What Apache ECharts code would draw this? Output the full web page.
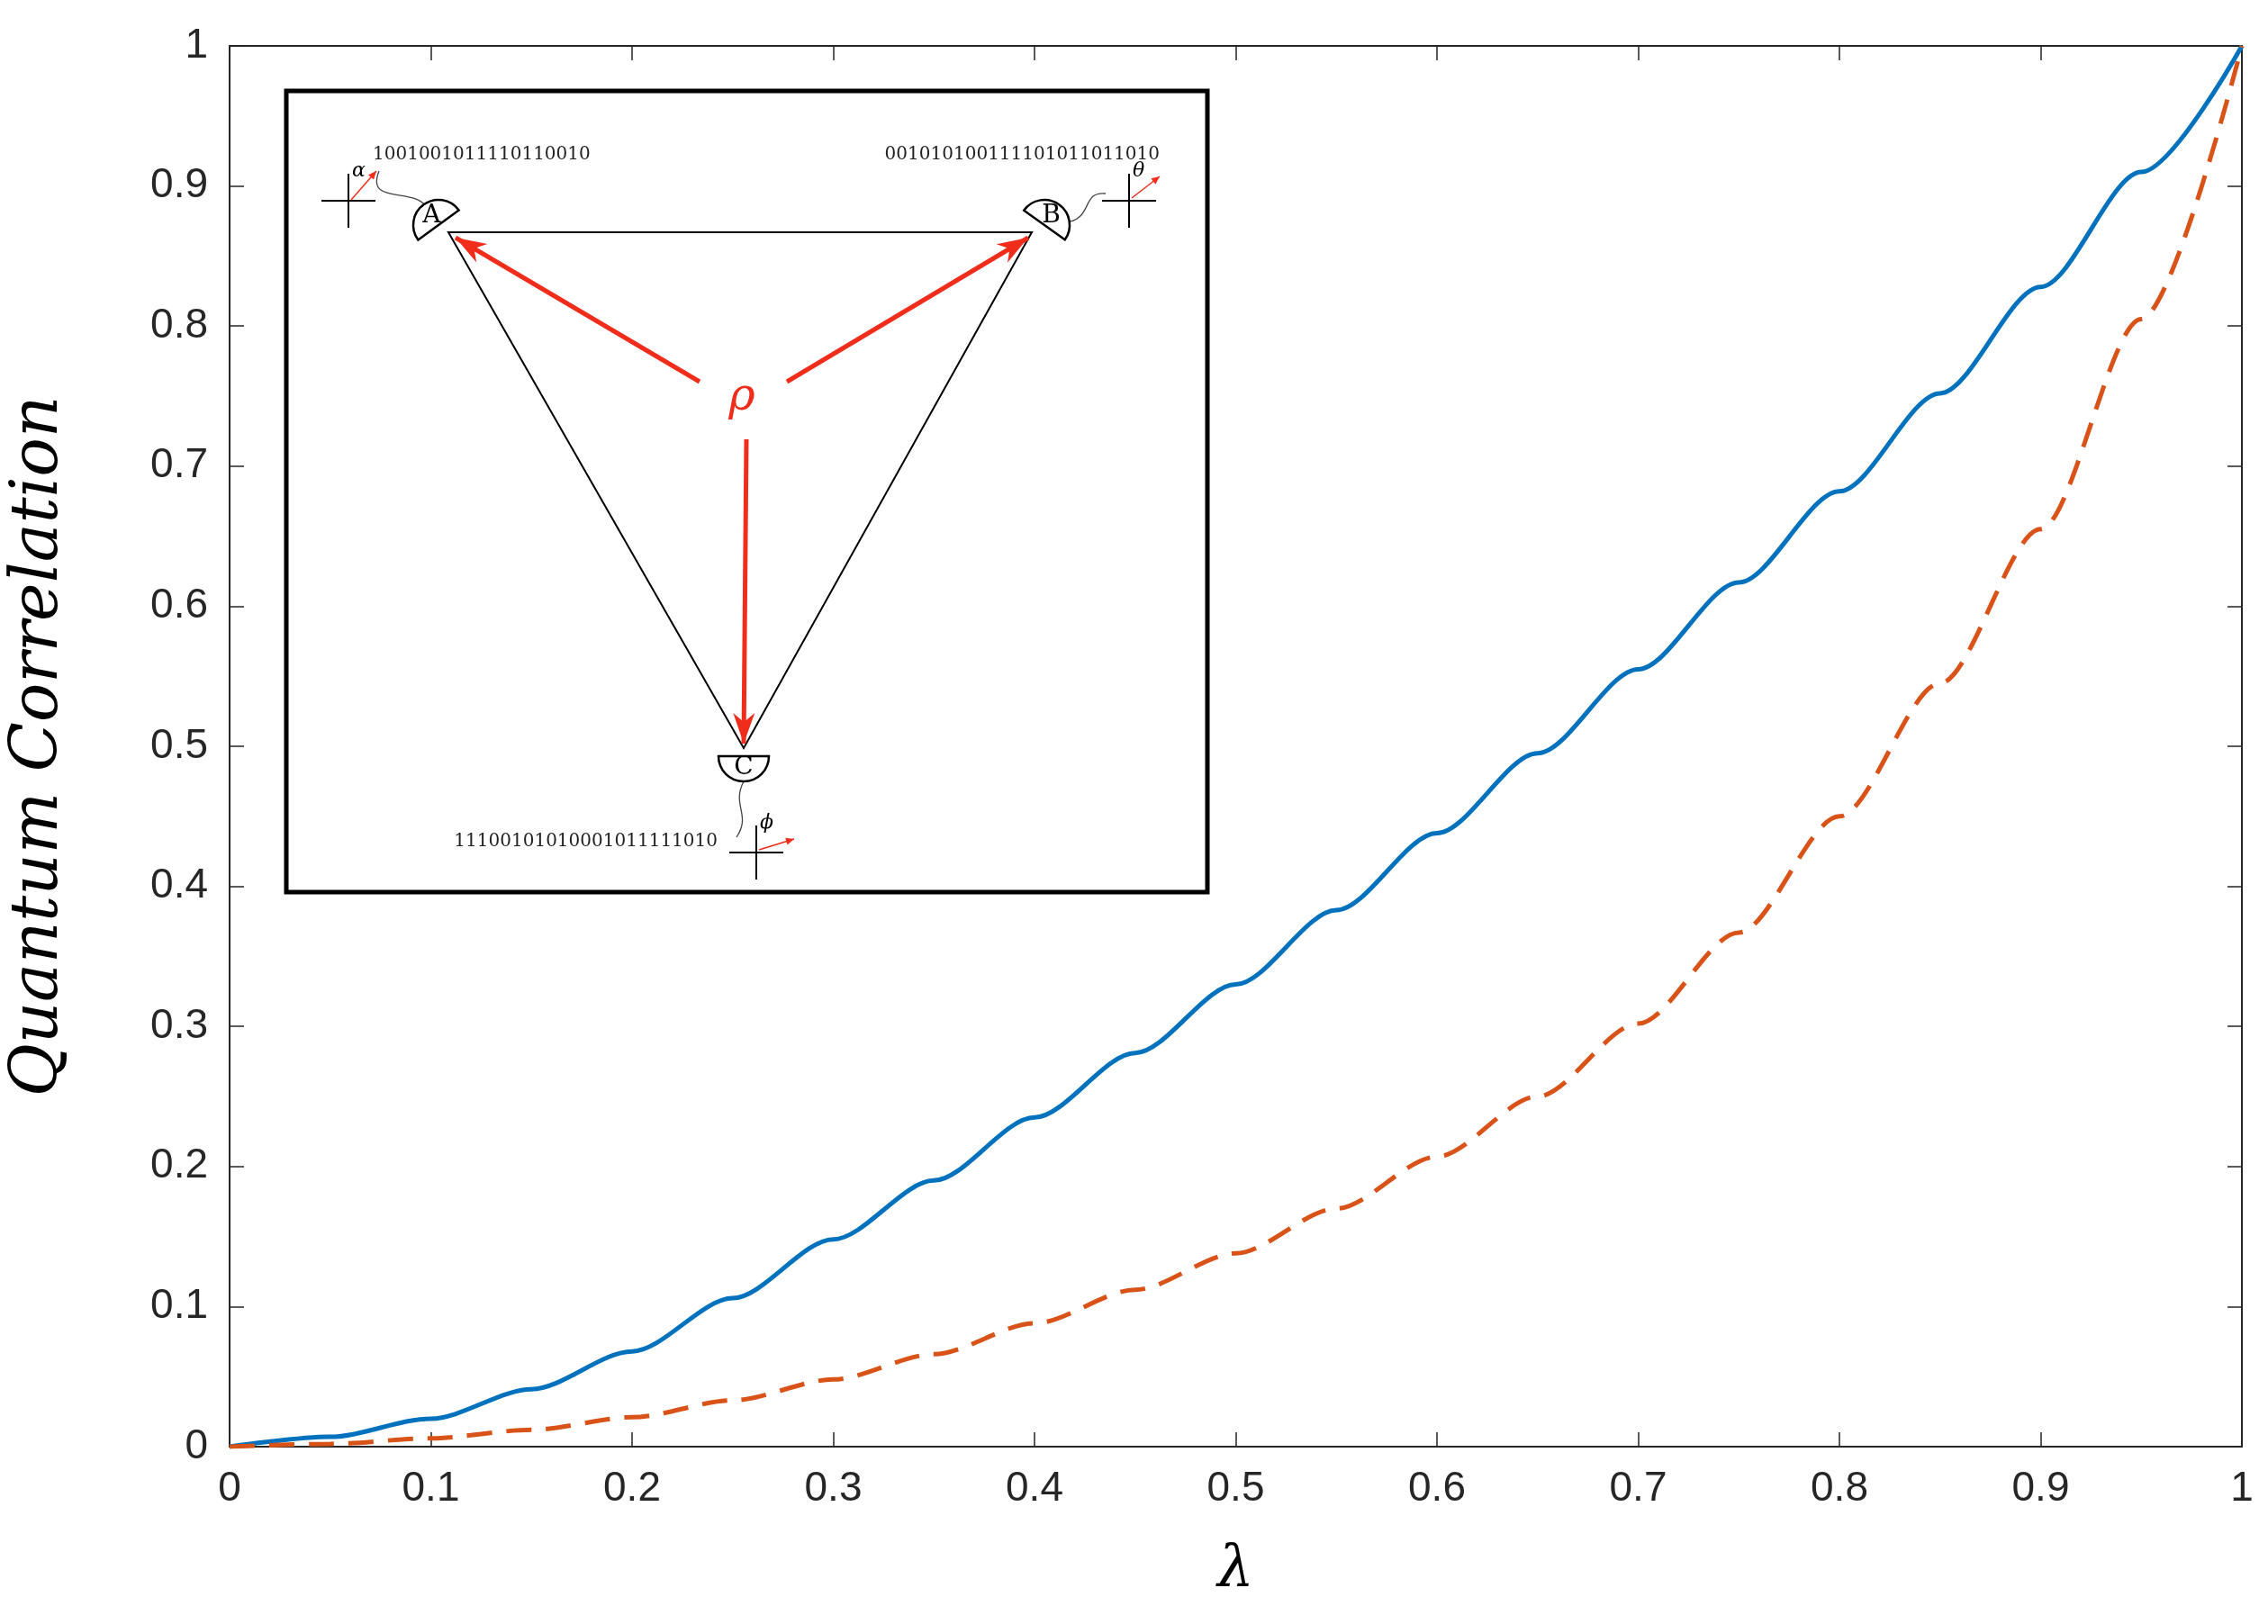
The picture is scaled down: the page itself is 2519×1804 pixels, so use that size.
<!DOCTYPE html>
<html><head><meta charset="utf-8">
<script src="https://cdn.jsdelivr.net/npm/echarts@6/dist/echarts.min.js"></script>
<style>html,body{margin:0;padding:0;background:#fff}#c{width:2519px;height:1804px}</style>
</head><body><div id="c"></div>
<script>
const lambdas = [0,0.05,0.1,0.15,0.2,0.25,0.3,0.35,0.4,0.45,0.5,0.55,0.6,0.65,0.7,0.75,0.8,0.85,0.9,0.95,1];
const blueVals = [0,0.007,0.02,0.041,0.068,0.106,0.148,0.19,0.235,0.281,0.33,0.383,0.438,0.495,0.555,0.617,0.682,0.752,0.828,0.91,1];
const orangeVals = [0,0.002,0.006,0.012,0.021,0.033,0.048,0.066,0.088,0.112,0.138,0.17,0.207,0.25,0.302,0.367,0.45,0.545,0.655,0.805,1];
const tickLabels = ['0','0.1','0.2','0.3','0.4','0.5','0.6','0.7','0.8','0.9','1'];
const bitsA='1001001011110110010', bitsB='0010101001111010110 11010'.replace(' ',''), bitsC='11100101010001011111010';

const chart = echarts.init(document.getElementById('c'));
const fmt = v => tickLabels[Math.round(v*10)];
const mk = (extra) => Object.assign({type:'value',min:0,max:1,interval:0.1,
  axisTick:{show:true,inside:true,length:16,lineStyle:{color:'#262626',width:1.5}},
  axisLine:{show:true,onZero:false,lineStyle:{color:'#262626',width:2}},splitLine:{show:false}}, extra);
const lbl = {fontSize:46,color:'#262626',margin:24,fontFamily:'Liberation Sans',formatter:fmt};
const G = [];
const red='#f02d1b';
G.push({type:'rect',shape:{x:318,y:101,width:1023,height:890},style:{fill:'#fff',stroke:'#000',lineWidth:5},z:10});
const A=[498,258],B=[1146,258],C=[826,831];
G.push({type:'polygon',shape:{points:[A,B,C]},style:{fill:null,stroke:'#000',lineWidth:2},z:11});
function arrow(p,q){
  G.push({type:'line',shape:{x1:p[0],y1:p[1],x2:q[0],y2:q[1]},style:{stroke:red,lineWidth:5},z:12});
  const a=Math.atan2(q[1]-p[1],q[0]-p[0]),L=34,W=12;
  const b=[q[0]-L*Math.cos(a),q[1]-L*Math.sin(a)];
  G.push({type:'polygon',shape:{points:[q,[b[0]+W*Math.sin(a),b[1]-W*Math.cos(a)],[q[0]-L*0.7*Math.cos(a),q[1]-L*0.7*Math.sin(a)],[b[0]-W*Math.sin(a),b[1]+W*Math.cos(a)]]},style:{fill:red},z:12});
}
arrow([777,424],[506,264]);arrow([874,424],[1142,264]);arrow([829,488],[826,826]);
G.push({type:'text',style:{text:'ρ',x:824,y:442,fill:red,font:'italic 50px "DejaVu Serif"',align:'center',verticalAlign:'middle'},z:12});
function det(c,d,letter){
  G.push({type:'sector',shape:{cx:c[0],cy:c[1],r:28,startAngle:d-Math.PI/2,endAngle:d+Math.PI/2},style:{fill:'#fff',stroke:'#000',lineWidth:2.5},z:13});
  G.push({type:'text',style:{text:letter,x:c[0]+13*Math.cos(d),y:c[1]+13*Math.sin(d),fill:'#000',font:'28px "DejaVu Serif"',align:'center',verticalAlign:'middle'},z:14});
}
det([487,250],-2.2,'A');det([1160,250],-0.95,'B');det([826,840],Math.PI/2,'C');
function cross(c,sym,s,e){
  G.push({type:'line',shape:{x1:c[0]-30,y1:c[1],x2:c[0]+30,y2:c[1]},style:{stroke:'#000',lineWidth:2},z:12});
  G.push({type:'line',shape:{x1:c[0],y1:c[1]-30,x2:c[0],y2:c[1]+30},style:{stroke:'#000',lineWidth:2},z:12});
  G.push({type:'line',shape:{x1:s[0],y1:s[1],x2:e[0],y2:e[1]},style:{stroke:red,lineWidth:1.5},z:12});
  const a=Math.atan2(e[1]-s[1],e[0]-s[0]);
  G.push({type:'polygon',shape:{points:[e,[e[0]-9*Math.cos(a)+4*Math.sin(a),e[1]-9*Math.sin(a)-4*Math.cos(a)],[e[0]-9*Math.cos(a)-4*Math.sin(a),e[1]-9*Math.sin(a)+4*Math.cos(a)]]},style:{fill:red},z:12});
  G.push({type:'text',style:{text:sym,x:c[0]+4,y:c[1]-22,fill:'#000',font:'italic 22px "DejaVu Serif"',verticalAlign:'bottom'},z:12});
}
cross([387,223],'α',[390,222],[418,190]);cross([1254,223],'θ',[1257,220],[1288,196]);cross([840,947],'ϕ',[843,944],[882,932]);
G.push({type:'bezierCurve',shape:{x1:421,y1:190,x2:476,y2:234,cpx1:405,cpy1:230,cpx2:465,cpy2:205},style:{stroke:'#444',lineWidth:1.3,fill:null},z:12});
G.push({type:'bezierCurve',shape:{x1:1182,y1:247,x2:1228,y2:215,cpx1:1215,cpy1:245,cpx2:1200,cpy2:212},style:{stroke:'#444',lineWidth:1.3,fill:null},z:12});
G.push({type:'bezierCurve',shape:{x1:826,y1:868,x2:818,y2:930,cpx1:812,cpy1:895,cpx2:835,cpy2:905},style:{stroke:'#444',lineWidth:1.3,fill:null},z:12});
G.push({type:'text',style:{text:bitsA,x:414,y:172,fill:'#222',font:'20px "DejaVu Serif"',verticalAlign:'middle'},z:12});
G.push({type:'text',style:{text:bitsB,x:1288,y:172,fill:'#222',font:'20px "DejaVu Serif"',align:'right',verticalAlign:'middle'},z:12});
G.push({type:'text',style:{text:bitsC,x:797,y:935,fill:'#222',font:'20px "DejaVu Serif"',align:'right',verticalAlign:'middle'},z:12});

chart.setOption({
  animation:false,
  grid:{left:249,right:29,top:51,bottom:197},
  xAxis:[mk({position:'bottom',name:'λ',nameLocation:'middle',nameGap:105,
    nameTextStyle:{fontSize:64,fontFamily:'DejaVu Serif',fontStyle:'italic',color:'#000'},axisLabel:lbl}),
    mk({position:'top',axisLabel:{show:false}})],
  yAxis:[mk({position:'left',name:'Quantum Correlation',nameLocation:'middle',nameGap:175,
    nameTextStyle:{fontSize:72,fontFamily:'DejaVu Serif',fontStyle:'italic',color:'#000'},axisLabel:lbl}),
    mk({position:'right',axisLabel:{show:false}})],
  series:[
    {type:'line',data:lambdas.map((x,i)=>[x,blueVals[i]]),smooth:0.3,smoothMonotone:'x',showSymbol:false,lineStyle:{color:'#0072bd',width:5}},
    {type:'line',data:lambdas.map((x,i)=>[x,orangeVals[i]]),smooth:0.3,smoothMonotone:'x',showSymbol:false,lineStyle:{color:'#d95319',width:5,type:[28,16]}}
  ],
  graphic:G
});
</script></body></html>
